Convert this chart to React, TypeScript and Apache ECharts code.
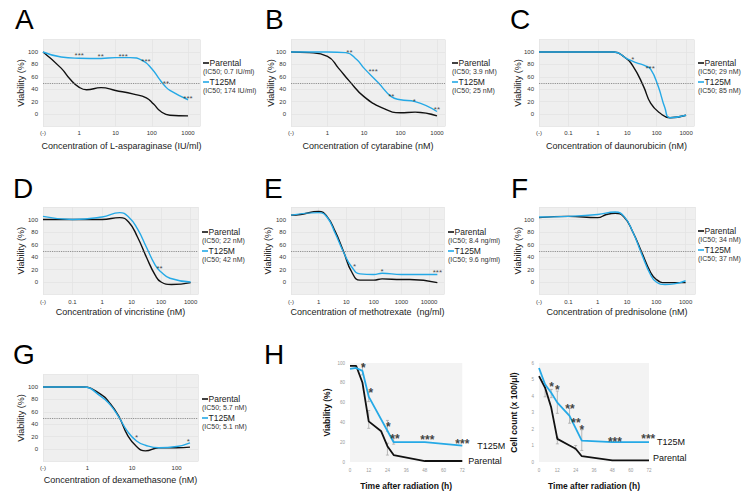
import React, { useEffect, useRef } from "react";
import * as echarts from "echarts";

// ---------- Dose-response data: [log10 concentration, viability %]; the control "(-)" sits at the axis minimum ----------
const aParental = [[-1, 100], [-0.5, 74], [-0.25, 56], [0, 43], [0.2, 39], [0.6, 42.5], [1, 38], [1.5, 32], [1.85, 26], [2.05, 16], [2.25, 4], [2.5, -2], [3, -3]];
const aT125M = [[-1, 100], [-0.5, 92], [0, 90], [0.6, 89.5], [1, 91], [1.4, 91], [1.75, 86], [2, 73], [2.2, 57], [2.35, 46], [2.5, 38], [3, 23]];
const aStars = [[0, 98, "***"], [0.59, 96, "**"], [1.21, 96, "***"], [1.84, 88, "***"], [2.39, 53, "**"], [3, 28, "***"]];
const aTicks = ["(-)", "1", "10", "100", "1000"];

const bParental = [[-1, 100], [-0.5, 99], [0, 93], [0.3, 74], [0.6, 53], [1, 28], [1.5, 10], [2, 2], [2.4, 3], [3, -3]];
const bT125M = [[-1, 100], [0, 100], [0.5, 99], [0.8, 88], [1, 74], [1.4, 50], [1.75, 28], [2, 23], [2.4, 20], [3, 4]];
const bStars = [[0.6, 102, "**"], [1.25, 71, "***"], [1.75, 31, "**"], [2.38, 24, "*"], [3, 11, "**"]];
const bTicks = ["(-)", "1", "10", "100", "1000"];

const cParental = [[-2, 100], [0, 100], [0.55, 100], [0.9, 92], [1.2, 77], [1.55, 45], [1.8, 17], [2.1, 2], [2.45, -6], [3, -2]];
const cT125M = [[-2, 100], [0, 100], [0.55, 100], [1, 89], [1.3, 83], [1.6, 78], [1.8, 72], [2.05, 45], [2.28, 10], [2.45, -6], [3, -2]];
const cStars = [[1.19, 91, "*"], [1.78, 76, "***"]];
const cTicks = ["(-)", "0.1", "1", "10", "100", "1000"];

const dParental = [[-2, 100], [-1, 100], [0, 100], [0.6, 103], [0.9, 96], [1.2, 72], [1.5, 40], [1.8, 11], [2, 0], [2.35, -4], [3, -1]];
const dT125M = [[-2, 105], [-1, 100], [0, 104], [0.6, 111], [0.9, 104], [1.2, 85], [1.5, 56], [1.8, 27], [2, 16], [2.3, 6], [3, 0]];
const dStars = [[1.95, 25, "**"]];
const dTicks = ["(-)", "0.1", "1", "10", "100", "1000"];

const eParental = [[-1, 107], [-0.65, 108], [0, 113], [0.3, 105], [0.6, 81], [0.9, 49], [1.2, 16], [1.5, 3], [2, 3], [2.3, 5], [3, 4], [3.3, 4], [4.3, -1]];
const eT125M = [[-1, 107], [0, 111], [0.3, 104], [0.6, 78], [0.9, 48], [1.2, 24], [1.5, 13], [2, 12], [2.3, 14], [3, 12], [4.3, 12]];
const eStars = [[1.3, 28, "*"], [2.3, 20, "*"], [4.3, 18, "***"]];
const eTicks = ["(-)", "1", "10", "100", "1000", "10000"];

const fParental = [[-2, 103], [-1, 105], [0, 103], [0.3, 108], [0.6, 110], [0.9, 104], [1.2, 80], [1.5, 48], [1.8, 16], [2, 4], [2.3, -1], [3, -1]];
const fT125M = [[-2, 104], [-1, 105], [0, 108], [0.6, 112], [0.9, 105], [1.2, 80], [1.5, 45], [1.8, 12], [2, 0], [2.3, -4], [2.6, -3], [3, 2]];
const fStars: any[] = [];
const fTicks = ["(-)", "0.1", "1", "10", "100", "1000"];

const gParental = [[-1, 100], [-0.6, 100], [-0.1, 100], [0.3, 88], [0.5, 74], [0.7, 53], [0.9, 22], [1.1, 4], [1.3, -3], [1.6, 2], [2, 2], [2.3, 3]];
const gT125M = [[-1, 100], [-0.6, 100], [-0.1, 100], [0.3, 85], [0.5, 72], [0.7, 52], [0.9, 28], [1.1, 13], [1.3, 6], [1.6, 2], [2, 4], [2.3, 10]];
const gStars = [[1.1, 21.5, "*"], [2.26, 16, "*"]];
const gTicks = ["(-)", "1", "10", "100"];

// ---------- Radiation time course (H): [hours, value] ----------
const h1T125M = [[0, 94], [4, 95], [8, 92], [12, 66], [28, 20], [48, 20], [72, 16.5]];
const h1Parental = [[0, 97], [4, 97], [8, 80], [12, 41], [20, 31], [24, 16], [28, 7], [48, 1], [72, 1]];
const h1Errors = [[8, 88, 99], [12, 61, 71], [12, 34, 52], [24, 31, 42], [24, 7, 19], [28, 18, 24]];
const h1Stars = [[8.5, 98, "*"], [13.3, 73, "*"], [24.6, 39, "*"], [28.8, 26.6, "**"], [49.6, 25.6, "***"], [72, 22, "***"]];

const h2T125M = [[0, 5.7], [4, 4.7], [8, 4.2], [12, 3.6], [20, 2.8], [28, 1.3], [48, 1.2], [72, 1.2]];
const h2Parental = [[0, 5.2], [4, 4.5], [8, 3.3], [12, 1.4], [20, 1.0], [24, 0.8], [28, 0.35], [48, 0.1], [72, 0.1]];
const h2Errors = [[4, 3.95, 4.67], [8, 3.9, 4.4], [12, 2.95, 4.3], [12, 1.1, 1.5], [20, 2.35, 3.25], [24, 0.75, 1.0], [28, 0.7, 1.95]];
const h2Stars = [[8.3, 4.73, "*"], [12, 4.57, "*"], [20.3, 3.45, "**"], [24.2, 2.55, "**"], [28.1, 2.14, "*"], [49.7, 1.43, "***"], [71.5, 1.6, "***"]];

const hTimeTicks = [0, 12, 24, 36, 48, 60, 72];

// ---------- Layout ----------
const FONT = "'Liberation Sans', Arial, Helvetica, sans-serif";
const BLUE = "#25a9e6";
const BLACK = "#111111";

const dosePanels = [
  { letter: "A", lp: [15, 5], left: 43, top: 39.6, width: 157, height: 86.8, xMin: -1, xMax: 3.33, ticks: aTicks, xName: "Concentration of L-asparaginase (IU/ml)", xGap: 15, yGap: 17.5, leg: [203, 63], ic50: ["(IC50; 0.7 IU/ml)", "(IC50; 174 IU/ml)"], p: aParental, t: aT125M, s: aStars },
  { letter: "B", lp: [265, 5], left: 291, top: 39.6, width: 154, height: 86.8, xMin: -1, xMax: 3.22, ticks: bTicks, xName: "Concentration of cytarabine (nM)", xGap: 15, yGap: 15.8, leg: [452, 63], ic50: ["(IC50; 3.9 nM)", "(IC50; 25 nM)"], p: bParental, t: bT125M, s: bStars },
  { letter: "C", lp: [510, 5], left: 539, top: 39.6, width: 155, height: 86.8, xMin: -2, xMax: 3.27, ticks: cTicks, xName: "Concentration of daunorubicin (nM)", xGap: 15, yGap: 16.2, leg: [698, 63], ic50: ["(IC50; 29 nM)", "(IC50; 85 nM)"], p: cParental, t: cT125M, s: cStars },
  { letter: "D", lp: [13, 174], left: 43, top: 207, width: 155, height: 87.5, xMin: -2, xMax: 3.25, ticks: dTicks, xName: "Concentration of vincristine (nM)", xGap: 13, yGap: 17.8, leg: [202, 232], ic50: ["(IC50; 22 nM)", "(IC50; 42 nM)"], p: dParental, t: dT125M, s: dStars },
  { letter: "E", lp: [264, 174], left: 291, top: 207, width: 153, height: 87.5, xMin: -1, xMax: 4.54, ticks: eTicks, xName: "Concentration of methotrexate  (ng/ml)", xGap: 13, yGap: 18.2, leg: [448, 232], ic50: ["(IC50; 8.4 ng/ml)", "(IC50; 9.6 ng/ml)"], p: eParental, t: eT125M, s: eStars },
  { letter: "F", lp: [511, 174], left: 539, top: 207, width: 156, height: 87.5, xMin: -2, xMax: 3.32, ticks: fTicks, xName: "Concentration of prednisolone (nM)", xGap: 13, yGap: 16.2, leg: [698, 231], ic50: ["(IC50; 34 nM)", "(IC50; 37 nM)"], p: fParental, t: fT125M, s: fStars },
  { letter: "G", lp: [13, 340], left: 43, top: 374.6, width: 155, height: 86.8, xMin: -1, xMax: 2.48, ticks: gTicks, xName: "Concentration of dexamethasone (nM)", xGap: 14, yGap: 17.8, leg: [202, 399], ic50: ["(IC50; 5.7 nM)", "(IC50; 5.1 nM)"], p: gParental, t: gT125M, s: gStars },
];

const hPanels = [
  { left: 350, top: 363, width: 112.3, height: 99, yMax: 100, yInt: 20, yName: "Viability (%)", yGap: 18.5, t: h1T125M, p: h1Parental, e: h1Errors, s: h1Stars, tLabelDist: 15, pLabelDist: 6, pLabelOff: 0 },
  { left: 539, top: 363, width: 110, height: 99, yMax: 6, yInt: 1, yName: "Cell count (x 100/μl)", yGap: 20.5, t: h2T125M, p: h2Parental, e: h2Errors, s: h2Stars, tLabelDist: 8, pLabelDist: 4, pLabelOff: -2 },
];

function txt(text: string, x: number, y: number, size: number, opts: any = {}) {
  return {
    type: "text",
    x,
    y,
    silent: true,
    style: {
      text,
      fill: opts.fill || "#1a1a1a",
      fontSize: size,
      fontFamily: FONT,
      fontWeight: opts.weight || "normal",
      textAlign: opts.align || "left",
      align: opts.align || "left",
      textVerticalAlign: opts.valign || "middle",
      verticalAlign: opts.valign || "middle",
    },
  };
}

function buildOption() {
  const grid: any[] = [];
  const xAxis: any[] = [];
  const yAxis: any[] = [];
  const series: any[] = [];
  const graphic: any[] = [];

  dosePanels.forEach((d, i) => {
    grid.push({ left: d.left, top: d.top, width: d.width, height: d.height, show: true, backgroundColor: "#efefef", borderWidth: 0, outerBoundsMode: "none" });
    xAxis.push({
      type: "value", gridIndex: i, min: d.xMin, max: d.xMax, interval: 1,
      axisLine: { show: false }, axisTick: { show: false },
      splitLine: { show: true, lineStyle: { color: "#e3e3e3", width: 0.8 } },
      axisLabel: {
        fontSize: 6, color: "#333", margin: 4, fontFamily: FONT,
        formatter: (v: number) => {
          const k = v - d.xMin;
          const r = Math.round(k);
          return Math.abs(k - r) < 1e-6 && r < d.ticks.length ? d.ticks[r] : "";
        },
      },
      name: d.xName, nameLocation: "middle", nameGap: d.xGap, nameMoveOverlap: false,
      nameTextStyle: { fontSize: 9, color: "#222", fontFamily: FONT },
    });
    yAxis.push({
      type: "value", gridIndex: i, min: -20, max: 120, interval: 20,
      axisLine: { show: false }, axisTick: { show: false },
      splitLine: { show: true, lineStyle: { color: "#e3e3e3", width: 0.8 } },
      axisLabel: { fontSize: 6, color: "#333", margin: 5, fontFamily: FONT, formatter: (v: number) => (v < 0 || v > 100 ? "" : String(v)) },
      name: "Viability (%)", nameLocation: "middle", nameGap: d.yGap, nameMoveOverlap: false,
      nameTextStyle: { fontSize: 9, color: "#222", fontFamily: FONT },
    });
    series.push({
      type: "line", name: "Parental", xAxisIndex: i, yAxisIndex: i, data: d.p, smooth: true, showSymbol: false,
      lineStyle: { color: BLACK, width: 1.4 }, itemStyle: { color: BLACK }, z: 3,
      markLine: { silent: true, symbol: "none", label: { show: false }, lineStyle: { type: "dotted", color: "#7a7a7a", width: 0.9 }, data: [{ yAxis: 50 }] },
    });
    series.push({
      type: "line", name: "T125M", xAxisIndex: i, yAxisIndex: i, data: d.t, smooth: true, showSymbol: false,
      lineStyle: { color: BLUE, width: 1.4 }, itemStyle: { color: BLUE }, z: 4,
    });
    series.push({
      type: "scatter", xAxisIndex: i, yAxisIndex: i, symbolSize: 1, itemStyle: { color: "rgba(0,0,0,0)" }, z: 5,
      data: d.s.map((s: any) => ({ value: [s[0], s[1]], name: s[2] })),
      label: { show: true, position: "inside", formatter: "{b}", fontSize: 8, color: "#1a1a1a", fontFamily: FONT, offset: [0, 2] },
    });
    // panel letter
    graphic.push(txt(d.letter, d.lp[0], d.lp[1], 28, { valign: "top", fill: "#000" }));
    // legend
    const [lx, ly] = d.leg;
    graphic.push({ type: "line", silent: true, shape: { x1: lx, y1: ly, x2: lx + 6, y2: ly }, style: { stroke: BLACK, lineWidth: 1.6 } });
    graphic.push(txt("Parental", lx + 6.5, ly, 8.5));
    graphic.push(txt(d.ic50[0], lx, ly + 8, 7, { fill: "#333" }));
    graphic.push({ type: "line", silent: true, shape: { x1: lx, y1: ly + 19, x2: lx + 6, y2: ly + 19 }, style: { stroke: BLUE, lineWidth: 1.6 } });
    graphic.push(txt("T125M", lx + 6.5, ly + 19, 8.5));
    graphic.push(txt(d.ic50[1], lx, ly + 27, 7, { fill: "#333" }));
  });

  graphic.push(txt("H", 264, 340, 28, { valign: "top", fill: "#000" }));

  hPanels.forEach((h, j) => {
    const i = dosePanels.length + j;
    grid.push({ left: h.left, top: h.top, width: h.width, height: h.height, show: true, backgroundColor: "#f3f3f3", borderWidth: 0, outerBoundsMode: "none" });
    xAxis.push({
      type: "value", gridIndex: i, min: hTimeTicks[0], max: hTimeTicks[hTimeTicks.length - 1], interval: 12,
      axisLine: { show: false }, axisTick: { show: false }, splitLine: { show: false },
      axisLabel: { fontSize: 4.5, color: "#999", margin: 6, fontFamily: FONT },
      name: "Time after radiation (h)", nameLocation: "middle", nameGap: 19.5, nameMoveOverlap: false,
      nameTextStyle: { fontSize: 8.5, color: "#111", fontWeight: "bold", fontFamily: FONT },
    });
    yAxis.push({
      type: "value", gridIndex: i, min: 0, max: h.yMax, interval: h.yInt,
      axisLine: { show: false }, axisTick: { show: false }, splitLine: { show: false },
      axisLabel: { fontSize: 4.5, color: "#999", margin: 5, fontFamily: FONT },
      name: h.yName, nameLocation: "middle", nameGap: h.yGap, nameMoveOverlap: false,
      nameTextStyle: { fontSize: 8.5, color: "#111", fontWeight: "bold", fontFamily: FONT },
    });
    series.push({
      type: "custom", xAxisIndex: i, yAxisIndex: i, data: h.e, encode: { x: 0, y: [1, 2] }, silent: true, z: 2,
      renderItem: (_p: any, api: any) => {
        const x = api.value(0);
        const a = api.coord([x, api.value(1)]);
        const b = api.coord([x, api.value(2)]);
        const st = { stroke: "#aaaaaa", lineWidth: 0.8 };
        return {
          type: "group",
          children: [
            { type: "line", shape: { x1: a[0], y1: a[1], x2: b[0], y2: b[1] }, style: st },
            { type: "line", shape: { x1: a[0] - 1.5, y1: a[1], x2: a[0] + 1.5, y2: a[1] }, style: st },
            { type: "line", shape: { x1: b[0] - 1.5, y1: b[1], x2: b[0] + 1.5, y2: b[1] }, style: st },
          ],
        };
      },
    });
    series.push({
      type: "line", name: "Parental", xAxisIndex: i, yAxisIndex: i, data: h.p, showSymbol: false, z: 3,
      lineStyle: { color: BLACK, width: 1.8 }, itemStyle: { color: BLACK },
      endLabel: { show: true, formatter: "Parental", fontSize: 9, color: "#111", fontFamily: FONT, distance: h.pLabelDist, offset: [0, h.pLabelOff] },
    });
    series.push({
      type: "line", name: "T125M", xAxisIndex: i, yAxisIndex: i, data: h.t, showSymbol: false, z: 4,
      lineStyle: { color: BLUE, width: 1.8 }, itemStyle: { color: BLUE },
      endLabel: { show: true, formatter: "T125M", fontSize: 9, color: "#111", fontFamily: FONT, distance: h.tLabelDist },
    });
    series.push({
      type: "scatter", xAxisIndex: i, yAxisIndex: i, symbolSize: 1, itemStyle: { color: "rgba(0,0,0,0)" }, z: 5,
      data: h.s.map((s: any) => ({ value: [s[0], s[1]], name: s[2] })),
      label: { show: true, position: "inside", formatter: "{b}", fontSize: 12, fontWeight: "bold", color: "#111", fontFamily: FONT, offset: [0, 3.5] },
    });
  });

  return { animation: false, backgroundColor: "#ffffff", textStyle: { fontFamily: FONT }, grid, xAxis, yAxis, series, graphic };
}

export default function App() {
  const ref = useRef<HTMLDivElement>(null);
  useEffect(() => {
    document.body.style.margin = "0";
    const chart = echarts.init(ref.current!, null, { renderer: "svg" });
    chart.setOption(buildOption() as any);
    return () => chart.dispose();
  }, []);
  return <div ref={ref} style={{ width: 750, height: 495 }} />;
}
